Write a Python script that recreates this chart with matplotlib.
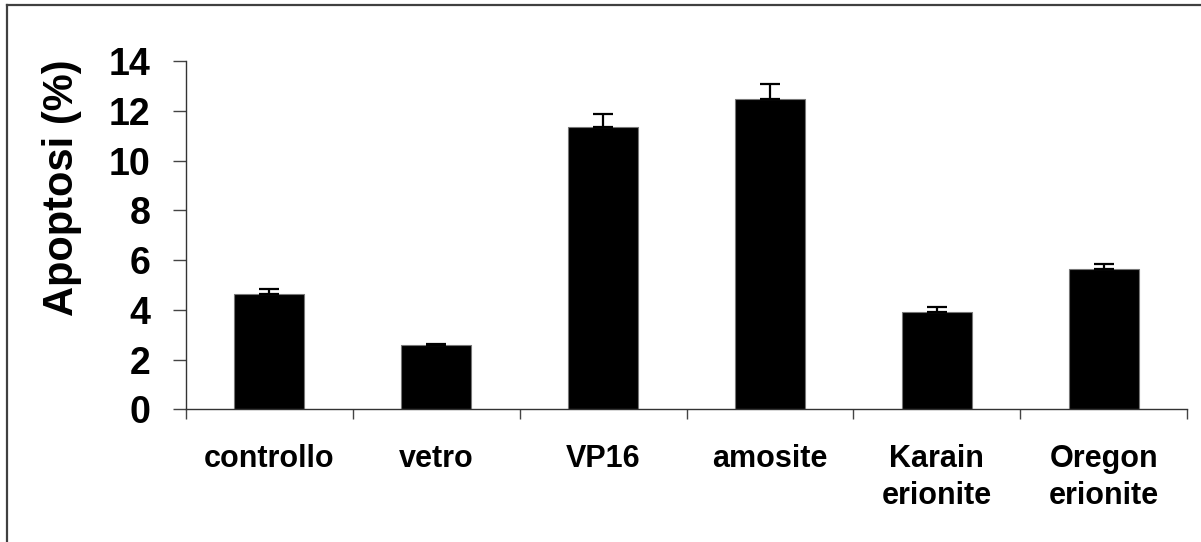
import matplotlib.pyplot as plt
from matplotlib.lines import Line2D

categories = ['controllo', 'vetro', 'VP16', 'amosite', 'Karain\nerionite', 'Oregon\nerionite']
apoptosi = [4.63, 2.59, 11.34, 12.47, 3.90, 5.64]
errore = [0.21, 0.05, 0.55, 0.59, 0.21, 0.20]
y_ticks = [0, 2, 4, 6, 8, 10, 12, 14]

plt.rcParams['font.family'] = ['Liberation Sans', 'DejaVu Sans']
plt.rcParams['font.weight'] = 'bold'

fig = plt.figure(figsize=(12.01, 5.42), dpi=100)
ax = fig.add_axes([0.1549, 0.2448, 0.8335, 0.6426])

x = range(len(categories))
ax.bar(x, apoptosi, width=0.42, color='black', edgecolor='#777777', linewidth=0.8,
       yerr=[[0] * len(errore), errore], capsize=7,
       error_kw=dict(ecolor='black', elinewidth=1.6, capthick=1.6))

ax.set_xlim(-0.5, len(categories) - 0.5)
ax.set_ylim(0, 14)

# category boundaries carry the tick marks, names sit between them
ax.set_xticks([i - 0.5 for i in range(len(categories) + 1)])
ax.set_xticklabels([])
ax.set_xticks(list(x), minor=True)
ax.set_xticklabels(categories, minor=True, fontsize=22, fontweight='bold', linespacing=1.32)
ax.tick_params(axis='x', which='major', direction='out', length=7, width=1, color='#444444')
ax.tick_params(axis='x', which='minor', length=0, pad=25)

ax.set_yticks(y_ticks)
ax.set_yticklabels([str(v) for v in y_ticks], fontsize=27, fontweight='bold')
ax.tick_params(axis='y', direction='out', length=9.5, width=1, color='#444444', pad=16)

ax.set_ylabel('Apoptosi (%)', fontsize=30, fontweight='bold', ha='center', va='center')
ax.yaxis.set_label_coords(-0.124, 0.637)

for side in ['top', 'right']:
    ax.spines[side].set_visible(False)
for side in ['left', 'bottom']:
    ax.spines[side].set_color('#333333')
    ax.spines[side].set_linewidth(1)

# frame lines along the left and top edges
fig.add_artist(Line2D([7 / 1201, 7 / 1201], [0, 1 - 5 / 542], color='#404040', linewidth=1.6))
fig.add_artist(Line2D([7 / 1201, 1], [1 - 5 / 542, 1 - 5 / 542], color='#404040', linewidth=1.6))

fig.savefig('out.png', dpi=100)
